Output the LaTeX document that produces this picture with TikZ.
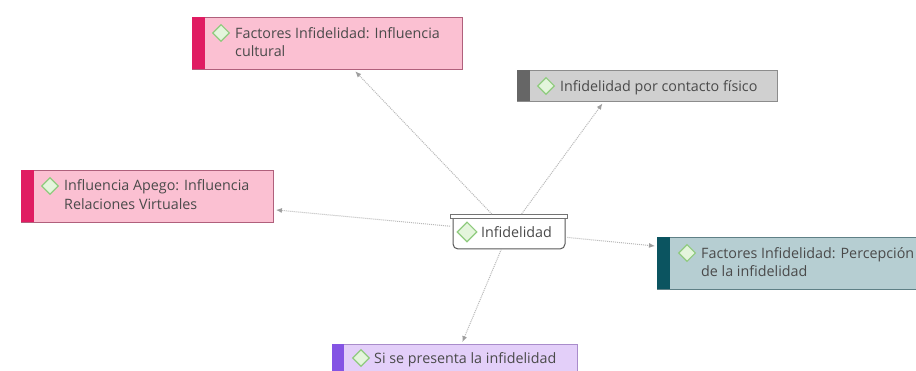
\documentclass[tikz,border=0pt]{standalone}
\usepackage{fontspec}
\setmainfont{Open Sans}
\usetikzlibrary{shapes.geometric,arrows.meta}
\definecolor{pinkf}{HTML}{FBC0D2}\definecolor{pinks}{HTML}{E01C62}\definecolor{pinkd}{HTML}{B0607C}
\definecolor{grayf}{HTML}{D0D0D0}\definecolor{grays}{HTML}{666666}\definecolor{grayd}{HTML}{8C8C8C}
\definecolor{tealf}{HTML}{B6CED2}\definecolor{teals}{HTML}{0B5460}\definecolor{teald}{HTML}{5F8086}
\definecolor{purpf}{HTML}{E3CFF9}\definecolor{purps}{HTML}{8454E4}\definecolor{purpd}{HTML}{A98CCB}
\definecolor{txt}{HTML}{4A4A4A}\definecolor{dgreen}{HTML}{8FCB7E}\definecolor{lgreen}{HTML}{E4F5DC}
\tikzset{
  boxnode/.style={draw=#1,line width=0.9pt,rectangle,anchor=north west,inner sep=0pt},
  label text/.style={anchor=north west,inner sep=0pt,text=txt,font=\fontsize{14.3}{18.5}\selectfont,align=left},
  icon/.style={diamond,draw=dgreen,fill=lgreen,line width=1.1pt,minimum width=17pt,minimum height=17pt,inner sep=0pt},
  link/.style={draw=black!28,line width=1pt,densely dotted,-{Latex[length=6pt,width=5pt,color=black!38]},shorten >=2pt}
}
\begin{document}
\begin{tikzpicture}[x=1pt,y=-1pt]
\clip (0,0) rectangle (916,371);
\fill[white] (0,0) rectangle (916,371);
% boxes
\node[boxnode=pinkd,fill=pinkf,minimum width=270pt,minimum height=52pt] (cultural) at (192,17) {};
\fill[pinks] (cultural.north west) rectangle ++(13,52);
\node[icon] (ic1) at (221,33) {};
\node[label text] (t1) at (235,27) {Factores Infidelidad: Influencia\\cultural};

\node[boxnode=grayd,fill=grayf,minimum width=260pt,minimum height=31pt] (contacto) at (517,70) {};
\fill[grays] (contacto.north west) rectangle ++(13,31);
\node[icon] (ic2) at (546,86) {};
\node[label text] (t2) at (560,80) {Infidelidad por contacto físico};

\node[boxnode=pinkd,fill=pinkf,minimum width=252pt,minimum height=52pt] (apego) at (21,170) {};
\fill[pinks] (apego.north west) rectangle ++(13,52);
\node[icon] (ic3) at (50,186) {};
\node[label text] (t3) at (64,179.5) {Influencia Apego: Influencia\\Relaciones Virtuales};

\node[boxnode=teald,fill=tealf,minimum width=280pt,minimum height=52pt] (percep) at (657,237) {};
\fill[teals] (percep.north west) rectangle ++(13,52);
\node[icon] (ic4) at (687,253) {};
\node[label text] (t4) at (701,247) {Factores Infidelidad: Percepción\\de la infidelidad};

\node[boxnode=purpd,fill=purpf,minimum width=245pt,minimum height=45pt] (sise) at (332,344) {};
\fill[purps] (sise.north west) rectangle ++(12,45);
\node[icon] (ic5) at (361,358) {};
\node[label text] (t5) at (374,352) {Si se presenta la infidelidad};

% central
\node[rectangle,anchor=north west,minimum width=117pt,minimum height=35pt,inner sep=0pt] (central) at (450,214) {};
\draw[black!65,line width=1pt,fill=white,rounded corners=5pt] (453,217) -- (453,249) -- (565,249) -- (565,217);
\draw[black!55,line width=0.9pt,fill=white] (central.north west) rectangle ++(117,4);
\node[icon,minimum width=20pt,minimum height=20pt] (ic6) at (467,232) {};
\node[label text] (t6) at (481,226) {Infidelidad};

% connectors
\draw[link] (central) -- (cultural.-45);
\draw[link] (central) -- (contacto.-160);
\draw[link] (central) -- (apego.-6);
\draw[link] (central) -- (percep.173.5);
\draw[link] (central) -- (sise.74);
\end{tikzpicture}
\end{document}
